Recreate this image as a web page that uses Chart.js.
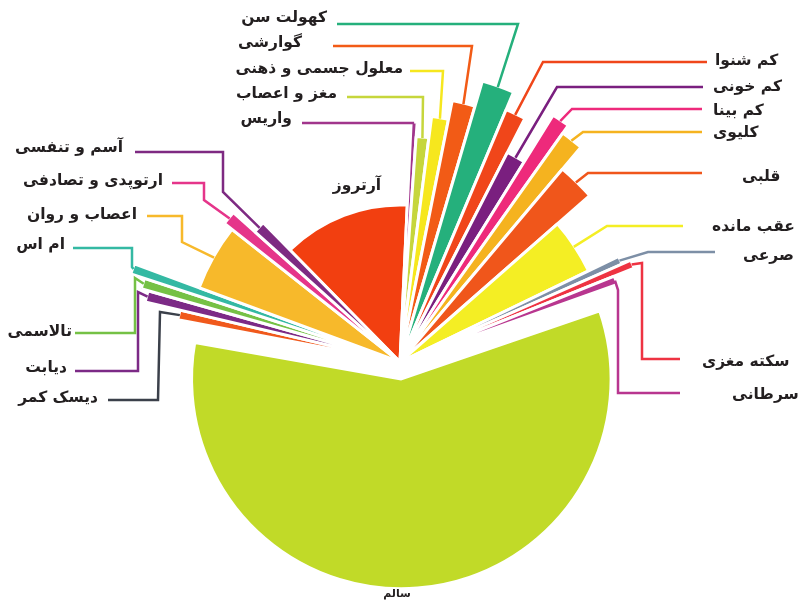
<!DOCTYPE html>
<html lang="fa">
<head>
<meta charset="utf-8">
<script src="https://cdn.jsdelivr.net/npm/chart.js@4.4.1/dist/chart.umd.min.js"></script>
<style>
  html, body { margin: 0; padding: 0; background: #fff; }
</style>
</head>
<body>
<canvas id="chart" width="801" height="600"></canvas>
<script>
// groups, clockwise starting from آرتروز
var labels = ['آرتروز', 'واریس', 'مغز و اعصاب', 'معلول جسمی و ذهنی', 'گوارشی', 'کهولت سن',
  'کم شنوا', 'کم خونی', 'کم بینا', 'کلیوی', 'قلبی', 'عقب مانده', 'صرعی', 'سکته مغزی', 'سرطانی',
  'سالم', 'دیسک کمر', 'دیابت', 'تالاسمی', 'ام اس', 'اعصاب و روان', 'ارتوپدی و تصادفی', 'آسم و تنفسی'];

// share of each group in percent (slice angle)
var shares = [13.1, 0.4, 0.9, 1.1, 1.4, 1.8, 1.2, 1.3, 1.0, 1.3, 2.4, 4.3, 0.55, 0.55, 0.6,
  58.45, 0.7, 0.7, 0.65, 0.6, 5.0, 1.0, 1.0];

// radial length of each slice (scale 0-100)
var lengths = [66, 101, 95, 104, 112, 123, 115, 99, 122, 118, 106, 88, 102, 106, 97,
  81, 95, 110, 113, 119, 90, 94, 82];

var colors = ['#f23f10', '#a1358c', '#c6d63c', '#f6e71e', '#f25b16', '#25b07c',
  '#f0461a', '#7a1f7f', '#ee2a7b', '#f5b31f', '#f0561b', '#f4ee24', '#7d8fa6', '#ee3342', '#b8368f',
  '#c1da28', '#f0591c', '#7c2a86', '#75c145', '#34b9a3', '#f7b92b', '#e5358a', '#7e2a82'];

var lineColors = colors.slice();
lineColors[16] = '#3b404a';

// label placement: text anchor and leader elbows (tip comes from the arc)
var labelLayout = [
  {x: 357, y: 186, align: 'center'},
  {x: 292, y: 119, align: 'right', path: [[302, 123], [413, 123]]},
  {x: 337, y: 94, align: 'right', path: [[347, 97], [423, 97]]},
  {x: 403, y: 69, align: 'right', path: [[410, 71], [443, 71]]},
  {x: 302, y: 43, align: 'right', path: [[333, 46], [472, 46]]},
  {x: 327, y: 18, align: 'right', path: [[337, 24], [518, 24]]},
  {x: 715, y: 61, align: 'left', path: [[707, 62], [543, 62]]},
  {x: 713, y: 87, align: 'left', path: [[703, 87], [557, 87]]},
  {x: 713, y: 111, align: 'left', path: [[702, 109], [572, 109]]},
  {x: 713, y: 133, align: 'left', path: [[702, 132], [583, 132]]},
  {x: 742, y: 177, align: 'left', path: [[702, 173], [588, 173]]},
  {x: 712, y: 227, align: 'left', path: [[683, 226], [607, 226]]},
  {x: 743, y: 256, align: 'left', path: [[715, 252], [648, 252]]},
  {x: 702, y: 362, align: 'left', path: [[680, 359], [642, 359], [642, 263]]},
  {x: 732, y: 395, align: 'left', path: [[680, 393], [618, 393], [618, 290]]},
  {x: 397, y: 594, align: 'center', small: true},
  {x: 98, y: 398, align: 'right', path: [[108, 400], [158, 400], [160, 312]]},
  {x: 67, y: 368, align: 'right', path: [[75, 371], [138, 371], [138, 292]]},
  {x: 72, y: 332, align: 'right', path: [[75, 333], [135, 333], [135, 278]]},
  {x: 65, y: 245, align: 'right', path: [[73, 248], [132, 248], [132, 267]]},
  {x: 137, y: 215, align: 'right', path: [[147, 216], [182, 216], [182, 242]]},
  {x: 163, y: 181, align: 'right', path: [[172, 183], [204, 183], [204, 200]]},
  {x: 123, y: 148, align: 'right', path: [[135, 152], [223, 152], [223, 192]]}
];

var offsets = labels.map(function(l, i) { return i === 15 ? 68 : 0; });

var leaderPlugin = {
  id: 'leaders',
  afterDatasetsDraw: function(chart) {
    var ctx = chart.ctx;
    var arcs = chart.getDatasetMeta(0).data;
    ctx.save();
    ctx.lineWidth = 2.5;
    ctx.lineJoin = 'miter';
    labelLayout.forEach(function(lay, i) {
      if (!lay.path) return;
      var arc = arcs[i];
      var mid = (arc.startAngle + arc.endAngle) / 2;
      var r = arc.outerRadius - 1;
      ctx.strokeStyle = lineColors[i];
      ctx.beginPath();
      ctx.moveTo(lay.path[0][0], lay.path[0][1]);
      for (var k = 1; k < lay.path.length; k++) ctx.lineTo(lay.path[k][0], lay.path[k][1]);
      ctx.lineTo(arc.x + Math.cos(mid) * r, arc.y + Math.sin(mid) * r);
      ctx.stroke();
    });
    ctx.direction = 'rtl';
    ctx.textBaseline = 'middle';
    ctx.fillStyle = '#231f20';
    labelLayout.forEach(function(lay, i) {
      ctx.font = lay.small ? 'bold 11px "DejaVu Sans"' : 'bold 15.5px "DejaVu Sans"';
      ctx.textAlign = lay.align;
      ctx.fillText(labels[i], lay.x, lay.y);
    });
    ctx.restore();
  }
};

new Chart(document.getElementById('chart'), {
  type: 'polarArea',
  data: {
    labels: labels,
    datasets: [{
      data: lengths,
      backgroundColor: colors,
      borderColor: '#ffffff',
      borderWidth: 3,
      offset: offsets,
      angle: function(c) { return shares[c.dataIndex] * 3.6; }
    }]
  },
  options: {
    responsive: false,
    animation: false,
    events: [],
    layout: { padding: { top: 124, bottom: 0, left: 0, right: 1 } },
    scales: {
      r: { display: false, min: 0, max: 100, startAngle: 315.5 }
    },
    plugins: { legend: { display: false }, tooltip: { enabled: false } }
  },
  plugins: [leaderPlugin]
});
</script>
</body>
</html>
